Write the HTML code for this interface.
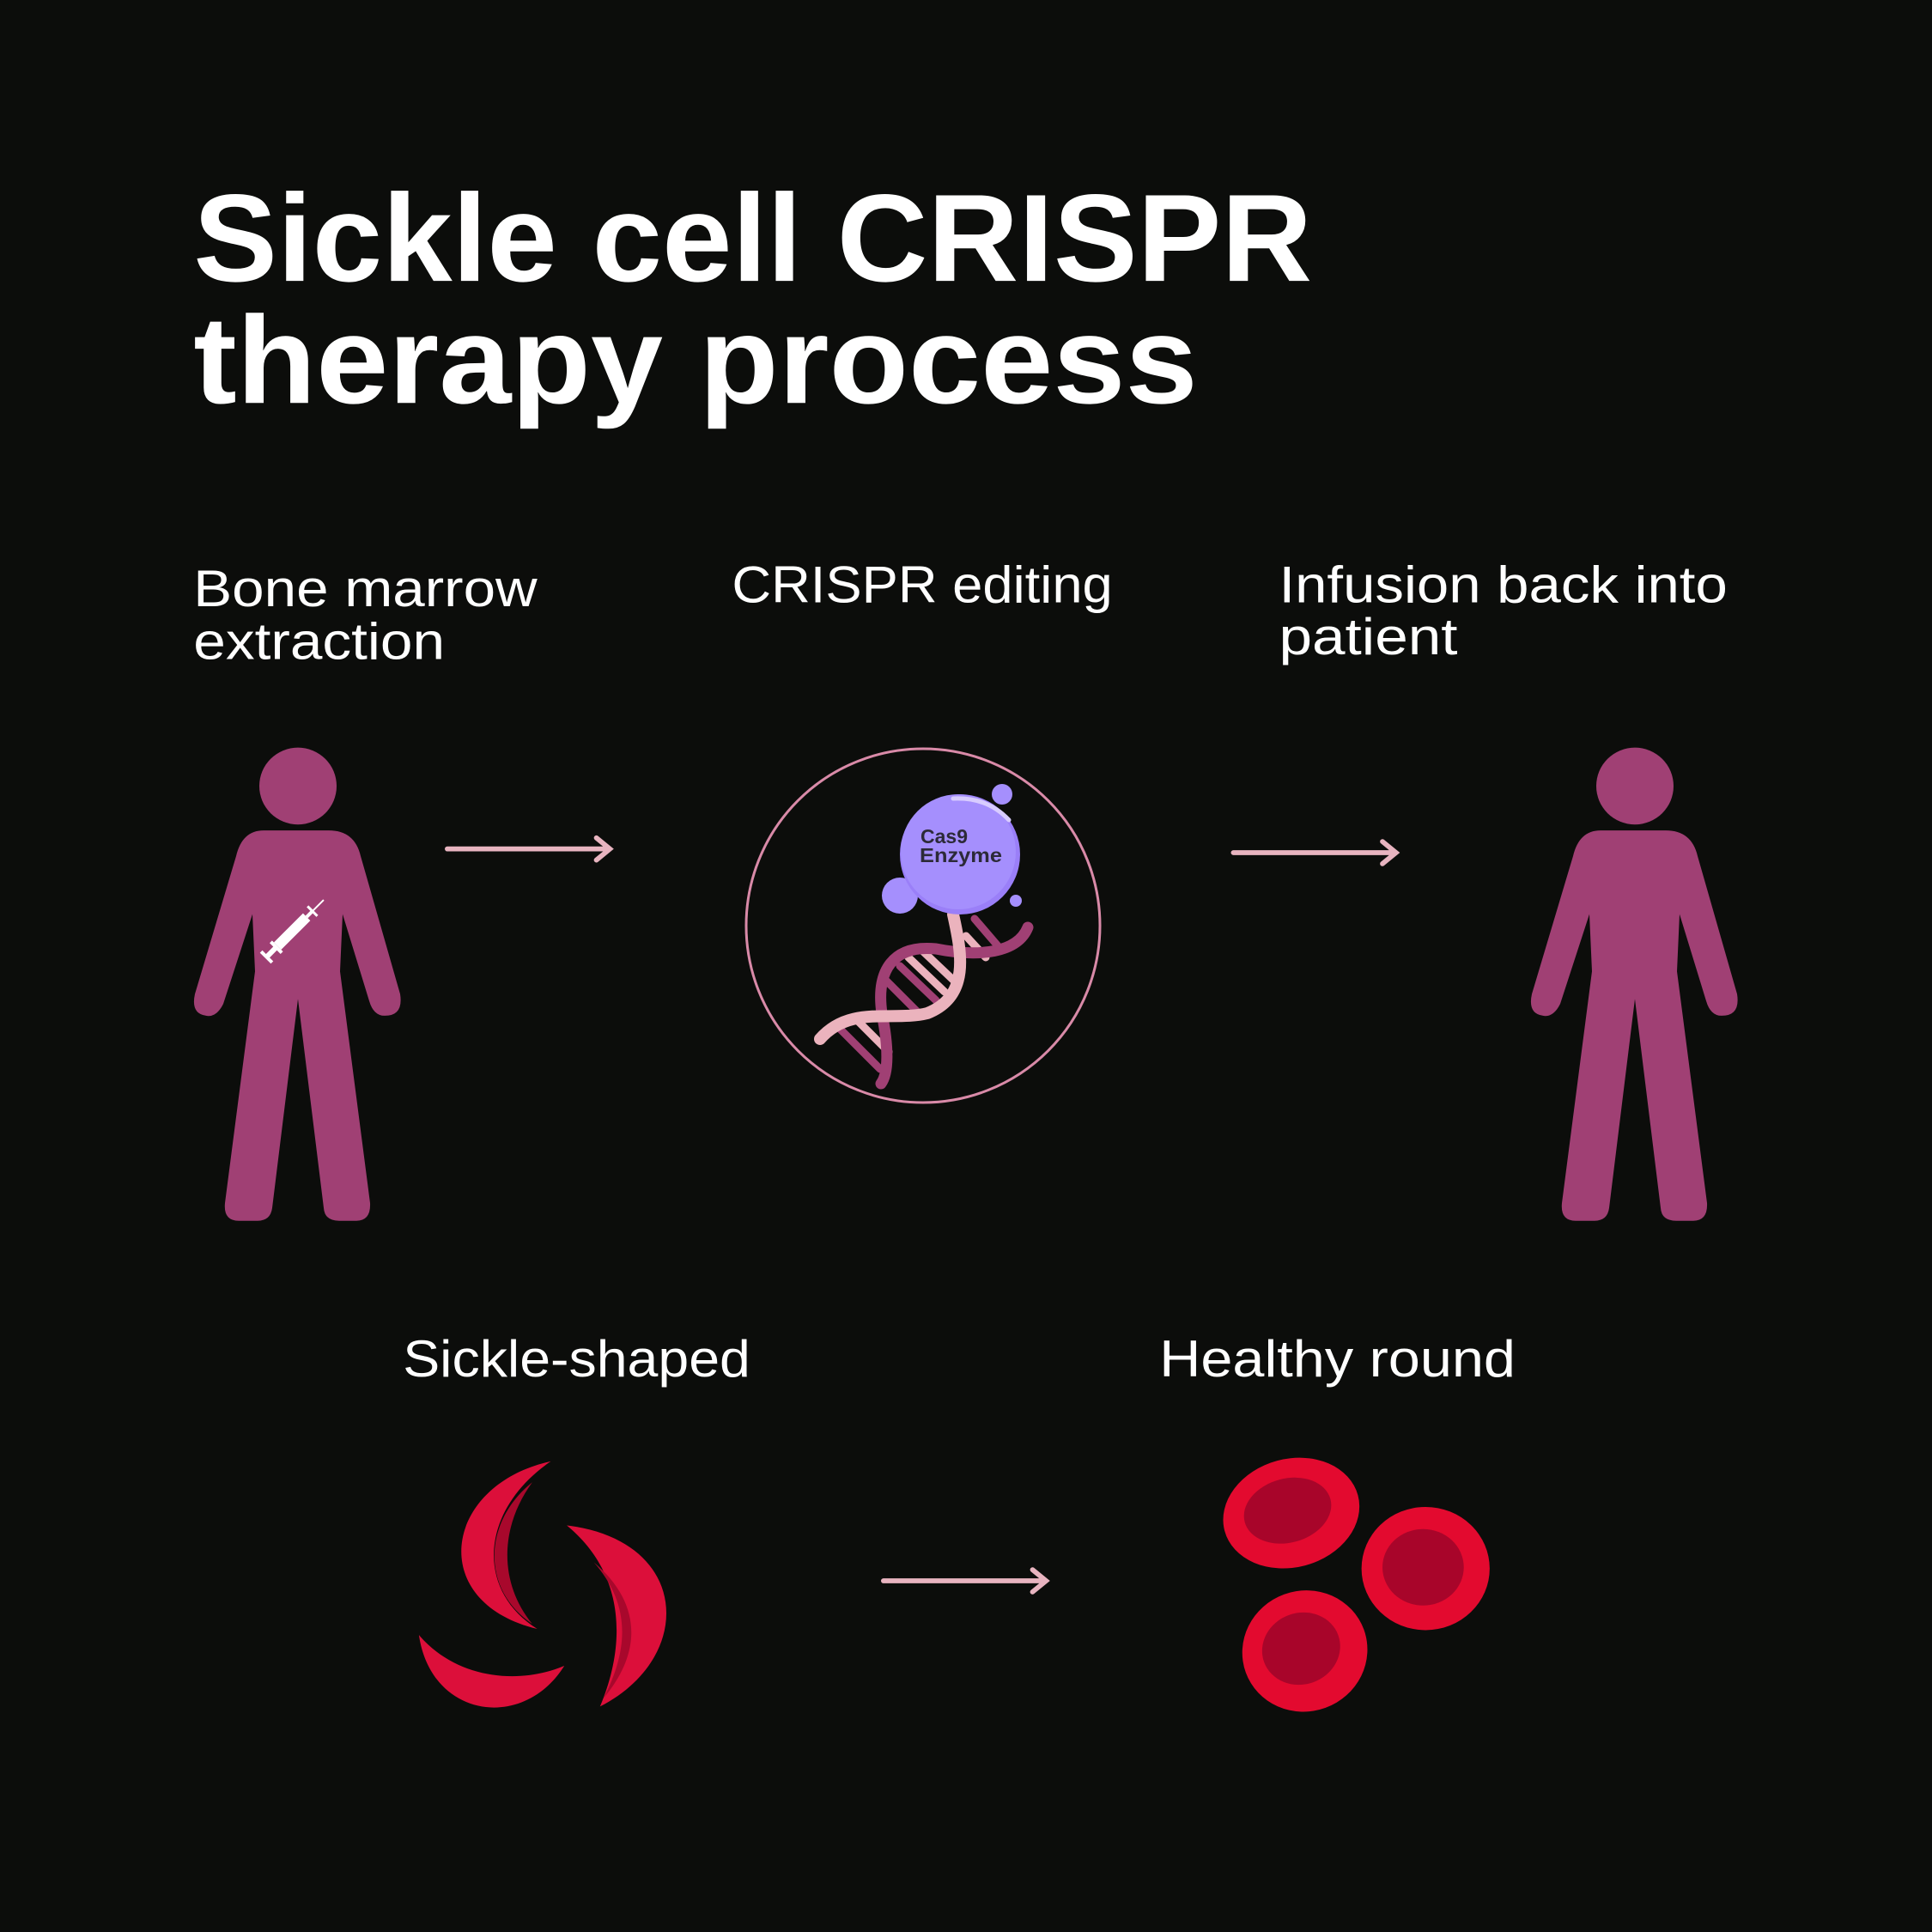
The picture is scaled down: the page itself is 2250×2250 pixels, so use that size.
<!DOCTYPE html>
<html><head><meta charset="utf-8"><style>
html,body{margin:0;padding:0;background:#0c0d0b;}
svg{display:block;}
</style></head><body>
<svg width="2250" height="2250" viewBox="0 0 2250 2250" xmlns="http://www.w3.org/2000/svg">
<rect width="2250" height="2250" fill="#0c0d0b"/>
<g transform="scale(1.43495)" font-family="Liberation Sans, sans-serif" fill="#ffffff">
  <text x="157" y="228" font-size="101" font-weight="bold" textLength="908" lengthAdjust="spacingAndGlyphs">Sickle cell CRISPR</text>
  <text x="157" y="327" font-size="101" font-weight="bold" textLength="815" lengthAdjust="spacingAndGlyphs">therapy process</text>
  <text x="157" y="492" font-size="42" textLength="279" lengthAdjust="spacingAndGlyphs">Bone marrow</text>
  <text x="157" y="535" font-size="42" textLength="204" lengthAdjust="spacingAndGlyphs">extraction</text>
  <text x="594" y="489" font-size="42" textLength="309" lengthAdjust="spacingAndGlyphs">CRISPR editing</text>
  <text x="1038" y="489" font-size="42" textLength="364" lengthAdjust="spacingAndGlyphs">Infusion back into</text>
  <text x="1038" y="531" font-size="42" textLength="145" lengthAdjust="spacingAndGlyphs">patient</text>
  <text x="327" y="1117" font-size="42" textLength="282" lengthAdjust="spacingAndGlyphs">Sickle-shaped</text>
  <text x="941" y="1117" font-size="42" textLength="289" lengthAdjust="spacingAndGlyphs">Healthy round</text>

  <!-- arrows -->
  <g stroke="#e8b4c0" stroke-width="4" fill="none" stroke-linecap="round">
    <path d="M363 689 H494 M484 680 L495 689 L484 698"/>
    <path d="M1001 692 H1132 M1122 683 L1133 692 L1122 701"/>
    <path d="M717 1283 H848 M838 1274 L849 1283 L838 1292"/>
  </g>

  <!-- sickle cells -->
  <g fill="#dc0f3a">
    <path d="M447 1186 C 360 1205 345 1300 436 1322 C 385 1290 390 1225 447 1186 Z"/>
    <path d="M340 1327 C 350 1395 425 1405 458 1352 C 420 1368 370 1362 340 1327 Z"/>
    <path d="M460 1238 C 560 1250 565 1345 487 1385 C 510 1330 505 1275 460 1238 Z"/>
  </g>
  <g fill="#a8082c">
    <path d="M432 1203 C 392 1235 390 1290 432 1318 C 405 1285 405 1240 432 1203 Z"/>
    <path d="M482 1268 C 520 1300 522 1340 490 1378 C 512 1335 510 1300 482 1268 Z"/>
  </g>

  <!-- round cells -->
  <g>
    <ellipse cx="1048" cy="1228" rx="56" ry="44" transform="rotate(-15 1048 1228)" fill="#e30a2f"/>
    <ellipse cx="1045" cy="1226" rx="36" ry="26" transform="rotate(-15 1045 1226)" fill="#a8052a"/>
    <ellipse cx="1157" cy="1273" rx="52" ry="50" fill="#e30a2f"/>
    <ellipse cx="1155" cy="1272" rx="33" ry="31" fill="#a8052a"/>
    <ellipse cx="1059" cy="1340" rx="51" ry="49" transform="rotate(-20 1059 1340)" fill="#e30a2f"/>
    <ellipse cx="1056" cy="1338" rx="32" ry="29" transform="rotate(-20 1056 1338)" fill="#a8052a"/>
  </g>
</g>

<!-- figures in 2250 coords -->
<defs>
<path id="fig" d="M107,102 L183,102 Q213,102 220,128 L266,268 Q270,290 248,290 Q235,290 230,275 L199,187 L196,245 L231,480 Q232,498 215,498 L195,498 Q178,498 177,485 L147,273 L117,485 Q115,498 100,498 L78,498 Q60,498 62,480 L97,245 L94,187 L60,278 Q52,292 40,290 Q22,288 27,268 L75,128 Q82,102 107,102 Z"/>
</defs>
<g fill="#a04074">
  <g transform="translate(200,850) scale(1,1.148)"><use href="#fig"/><ellipse cx="147" cy="57" rx="45" ry="39"/></g>
  <g transform="translate(1757,850) scale(1,1.148)"><use href="#fig"/><ellipse cx="147" cy="57" rx="45" ry="39"/></g>
</g>
<!-- syringe -->
<g transform="translate(343,1082) rotate(-45)" fill="#fff">
  <rect x="-28" y="-6" width="48" height="12"/>
  <rect x="20" y="-2" width="10" height="4"/>
  <rect x="28" y="-8" width="3" height="16"/>
  <rect x="-32" y="-9" width="4" height="18"/>
  <rect x="-45" y="-3" width="14" height="6"/>
  <rect x="-48" y="-9" width="4" height="18"/>
  <rect x="30" y="-1" width="18" height="2"/>
</g>

<!-- CRISPR circle -->
<circle cx="1075" cy="1078" r="206" fill="none" stroke="#d98aa8" stroke-width="3"/>
<!-- DNA -->
<g fill="none" stroke-linecap="round">
  <g stroke-width="9">
    <path d="M1135 1070 L1165 1105" stroke="#a04074"/>
    <path d="M1125 1090 L1148 1115" stroke="#ebb3bd"/>
    <path d="M1048 1125 L1090 1165" stroke="#a04074"/>
    <path d="M1058 1115 L1100 1155" stroke="#ebb3bd"/>
    <path d="M1030 1140 L1070 1180" stroke="#a04074"/>
    <path d="M1075 1108 L1112 1143" stroke="#ebb3bd"/>
    <path d="M978 1198 L1025 1245" stroke="#a04074"/>
    <path d="M1000 1190 L1035 1225" stroke="#ebb3bd"/>
  </g>
  <path d="M1197 1080 C 1185 1110 1140 1115 1090 1105 C 1040 1100 1020 1130 1027 1180 C 1035 1220 1035 1250 1026 1262" stroke="#a04074" stroke-width="13"/>
  <path d="M1110 1065 C 1120 1110 1130 1160 1080 1180 C 1040 1190 990 1170 955 1210" stroke="#ebb3bd" stroke-width="14"/>
</g>
<!-- Cas9 bubbles -->
<circle cx="1167" cy="925" r="12" fill="#a58ffd"/>
<circle cx="1048" cy="1043" r="21" fill="#a58ffd"/>
<circle cx="1183" cy="1049" r="7" fill="#a58ffd"/>
<circle cx="1118" cy="995" r="70" fill="#9a7ff8"/>
<circle cx="1116" cy="992" r="67" fill="#a58ffd"/>
<path d="M1110 930 Q1150 928 1175 955" stroke="#d8ccff" stroke-width="5" fill="none" stroke-linecap="round"/>
<g font-family="Liberation Sans, sans-serif" font-weight="bold" fill="#2c2a38" font-size="23">
  <text x="1072" y="982">Cas9</text>
  <text x="1071" y="1004" textLength="96" lengthAdjust="spacingAndGlyphs">Enzyme</text>
</g>
</svg>
</body></html>
